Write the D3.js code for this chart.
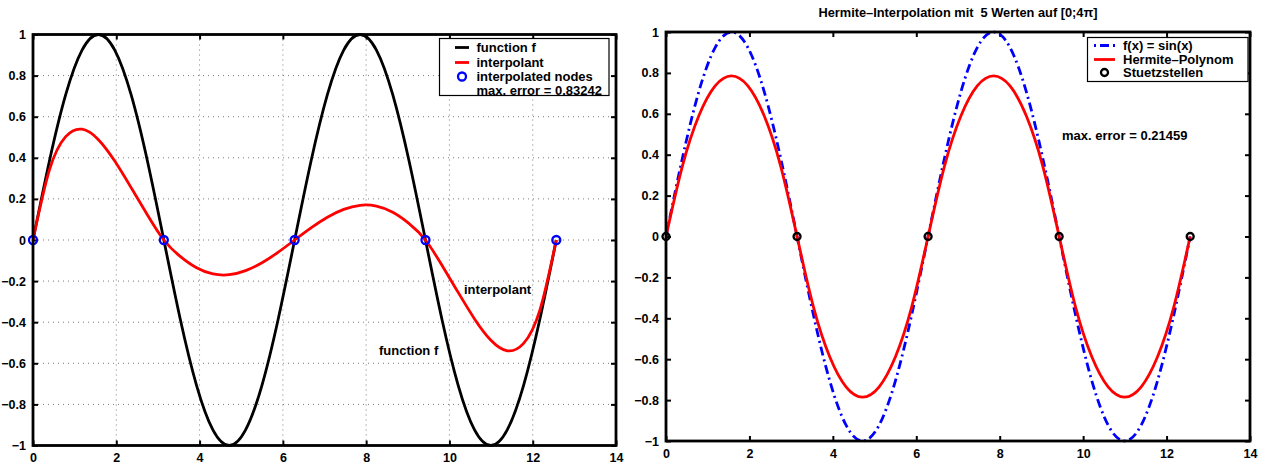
<!DOCTYPE html>
<html><head><meta charset="utf-8">
<script src="https://cdn.jsdelivr.net/npm/d3@7"></script>
<style>
body{margin:0;background:#fff;}
svg text{font-family:"Liberation Sans",Arial,sans-serif;font-weight:bold;white-space:pre;}
</style></head>
<body><svg id="c" width="1263" height="466"></svg>
<script>
// ---------- data ----------
const xTicks = [0, 2, 4, 6, 8, 10, 12, 14];
const xTickLabels = ["0", "2", "4", "6", "8", "10", "12", "14"];
const yTicks = [-1, -0.8, -0.6, -0.4, -0.2, 0, 0.2, 0.4, 0.6, 0.8, 1];
const yTickLabels = ["\u22121", "\u22120.8", "\u22120.6", "\u22120.4", "\u22120.2", "0", "0.2", "0.4", "0.6", "0.8", "1"];
const sampleX = [0, 0.393, 0.785, 1.178, 1.571, 1.963, 2.356, 2.749, 3.142, 3.534, 3.927, 4.320, 4.712, 5.105, 5.498, 5.890, 6.283, 6.676, 7.069, 7.461, 7.854, 8.247, 8.639, 9.032, 9.425, 9.817, 10.210, 10.603, 10.996, 11.388, 11.781, 12.174, 12.566];
const sinValues = [0, 0.383, 0.707, 0.924, 1, 0.924, 0.707, 0.383, 0, -0.383, -0.707, -0.924, -1, -0.924, -0.707, -0.383, 0, 0.383, 0.707, 0.924, 1, 0.924, 0.707, 0.383, 0, -0.383, -0.707, -0.924, -1, -0.924, -0.707, -0.383, 0];
const interpolantValues = [0, 0.340, 0.503, 0.539, 0.488, 0.384, 0.255, 0.122, 0, -0.080, -0.135, -0.165, -0.169, -0.149, -0.111, -0.059, 0, 0.059, 0.111, 0.149, 0.169, 0.165, 0.135, 0.080, 0, -0.122, -0.255, -0.384, -0.488, -0.539, -0.503, -0.340, 0];
const hermiteValues = [0, 0.344, 0.589, 0.736, 0.785, 0.736, 0.589, 0.344, 0, -0.344, -0.589, -0.736, -0.785, -0.736, -0.589, -0.344, 0, 0.344, 0.589, 0.736, 0.785, 0.736, 0.589, 0.344, 0, -0.344, -0.589, -0.736, -0.785, -0.736, -0.589, -0.344, 0];
const nodeX = [0, 3.1416, 6.2832, 9.4248, 12.5664];
const nodeY = [0, 0, 0, 0, 0];
const leftLegend = ["function f", "interpolant", "interpolated nodes", "max. error = 0.83242"];
const rightLegend = ["f(x) = sin(x)", "Hermite\u2013Polynom", "Stuetzstellen"];
const rightTitle = "Hermite\u2013Interpolation mit  5 Werten auf [0;4\u03c0]";
const rightNote = "max. error = 0.21459";
const leftNotes = [{t: "interpolant", x: 464, y: 289}, {t: "function f", x: 379, y: 350}];

const svg = d3.select("#c");

function panel(cfg) {
  const x = d3.scaleLinear().domain([0, 14]).range([cfg.x0, cfg.x1]);
  const y = d3.scaleLinear().domain([-1, 1]).range([cfg.y0, cfg.y1]);
  const g = svg.append("g");
  const clipId = "clip" + cfg.id;
  svg.append("clipPath").attr("id", clipId).append("rect")
    .attr("x", cfg.x0).attr("y", cfg.y1 - 2).attr("width", cfg.x1 - cfg.x0).attr("height", cfg.y0 - cfg.y1 + 4);
  if (cfg.grid) {
    g.selectAll(".gx").data(xTicks.slice(1, -1)).enter().append("line")
      .attr("x1", d => x(d)).attr("x2", d => x(d)).attr("y1", cfg.y1).attr("y2", cfg.y0)
      .attr("stroke", "#7a7a7a").attr("stroke-width", 1).attr("stroke-dasharray", "1,4");
    g.selectAll(".gy").data(yTicks.slice(1, -1)).enter().append("line")
      .attr("y1", d => y(d)).attr("y2", d => y(d)).attr("x1", cfg.x0).attr("x2", cfg.x1)
      .attr("stroke", "#7a7a7a").attr("stroke-width", 1).attr("stroke-dasharray", "1,4");
  }
  const tl = 5;
  const axB = d3.axisBottom(x).tickValues(xTicks).tickSize(-tl).tickFormat((d, i) => xTickLabels[i]).tickPadding(8);
  const axT = d3.axisTop(x).tickValues(xTicks).tickSize(-tl).tickFormat("");
  const axL = d3.axisLeft(y).tickValues(yTicks).tickSize(-tl).tickFormat((d, i) => yTickLabels[i]).tickPadding(7);
  const axR = d3.axisRight(y).tickValues(yTicks).tickSize(-tl).tickFormat("");
  [[axB, `translate(0,${cfg.y0})`], [axT, `translate(0,${cfg.y1})`], [axL, `translate(${cfg.x0},0)`], [axR, `translate(${cfg.x1},0)`]].forEach(([a, t]) => {
    const ag = g.append("g").attr("transform", t).call(a);
    ag.select(".domain").remove();
    ag.selectAll("line").attr("stroke", "#000").attr("stroke-width", 2);
    ag.selectAll("text").attr("font-size", 12.5).attr("fill", "#000").style("font-family", "Liberation Sans, Arial, sans-serif").style("font-weight", "bold");
  });
  const pts = (ys) => sampleX.map((v, i) => [v, ys[i]]);
  const line = d3.line().x(d => x(d[0])).y(d => y(d[1])).curve(d3.curveNatural);
  cfg.series.forEach(s => {
    g.append("path").attr("d", line(pts(s.values))).attr("fill", "none")
      .attr("stroke", s.color).attr("stroke-width", s.w || 2.8)
      .attr("stroke-dasharray", s.dash || null).attr("clip-path", `url(#${clipId})`);
  });
  g.selectAll(".node").data(nodeX).enter().append("circle")
    .attr("cx", d => x(d)).attr("cy", (d, i) => y(nodeY[i])).attr("r", cfg.nodeR)
    .attr("fill", "none").attr("stroke", cfg.nodeColor).attr("stroke-width", 2.3);
  g.append("rect").attr("x", cfg.x0).attr("y", cfg.y1).attr("width", cfg.x1 - cfg.x0).attr("height", cfg.y0 - cfg.y1)
    .attr("fill", "none").attr("stroke", "#000").attr("stroke-width", 2.8);
  return {x, y, g};
}

// left panel
panel({id: "L", x0: 33, x1: 616, y0: 445.5, y1: 34.5, grid: true, nodeR: 4, nodeColor: "#0000ff",
  series: [{values: sinValues, color: "#000"}, {values: interpolantValues, color: "#ff0000"}]});
const lg = svg.append("g");
lg.append("rect").attr("x", 439.5).attr("y", 38.5).attr("width", 169.5).attr("height", 57).attr("fill", "#fff").attr("stroke", "#000").attr("stroke-width", 1.2);
const lgY = [47.5, 62.5, 76.5, 90.5];
lg.append("line").attr("x1", 455).attr("x2", 469).attr("y1", lgY[0]).attr("y2", lgY[0]).attr("stroke", "#000").attr("stroke-width", 2.8);
lg.append("line").attr("x1", 455).attr("x2", 469).attr("y1", lgY[1]).attr("y2", lgY[1]).attr("stroke", "#ff0000").attr("stroke-width", 2.8);
lg.append("circle").attr("cx", 462).attr("cy", lgY[2]).attr("r", 4).attr("fill", "none").attr("stroke", "#0000ff").attr("stroke-width", 2.3);
lg.selectAll("text").data(leftLegend).enter().append("text")
  .attr("x", 476.5).attr("y", (d, i) => lgY[i]).attr("dy", "0.35em").attr("font-size", 13).text(d => d);
svg.selectAll(".ln").data(leftNotes).enter().append("text")
  .attr("x", d => d.x).attr("y", d => d.y).attr("dy", "0.35em").attr("font-size", 13).text(d => d.t);

// right panel
panel({id: "R", x0: 666, x1: 1250, y0: 441, y1: 32, grid: false, nodeR: 3.5, nodeColor: "#000",
  series: [{values: sinValues, color: "#0000ff", dash: "9,4,2,4"}, {values: hermiteValues, color: "#ff0000"}]});
svg.append("text").attr("x", 958).attr("y", 13).attr("dy", "0.35em").attr("text-anchor", "middle").attr("font-size", 12.8).text(rightTitle);
svg.append("text").attr("x", 1062).attr("y", 135).attr("dy", "0.35em").attr("font-size", 13).text(rightNote);
const rg = svg.append("g");
rg.append("rect").attr("x", 1087.5).attr("y", 37.5).attr("width", 160.5).attr("height", 44).attr("fill", "#fff").attr("stroke", "#000").attr("stroke-width", 1.2);
const rgY = [45.5, 59.5, 72.5];
rg.append("line").attr("x1", 1094).attr("x2", 1115).attr("y1", rgY[0]).attr("y2", rgY[0]).attr("stroke", "#0000ff").attr("stroke-width", 2.8).attr("stroke-dasharray", "2,4,9,4");
rg.append("line").attr("x1", 1094).attr("x2", 1115).attr("y1", rgY[1]).attr("y2", rgY[1]).attr("stroke", "#ff0000").attr("stroke-width", 2.8);
rg.append("circle").attr("cx", 1104.5).attr("cy", rgY[2]).attr("r", 3.5).attr("fill", "none").attr("stroke", "#000").attr("stroke-width", 2.3);
rg.selectAll("text").data(rightLegend).enter().append("text")
  .attr("x", 1123).attr("y", (d, i) => rgY[i]).attr("dy", "0.35em").attr("font-size", 13).text(d => d);
</script></body></html>
